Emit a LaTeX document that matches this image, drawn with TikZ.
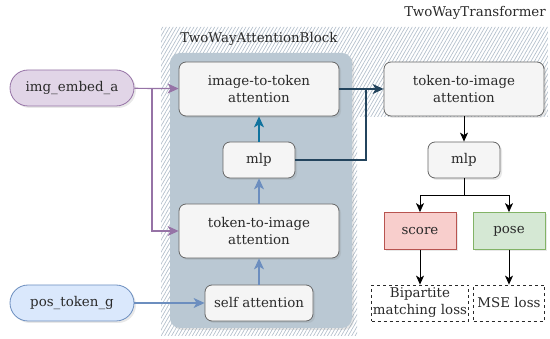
\documentclass[tikz,border=0pt]{standalone}
\usepackage{fontspec}
\setmainfont{DejaVu Serif}
\usepackage{tikz}
\usetikzlibrary{arrows.meta,shadows,patterns.meta}

\definecolor{purpleFill}{HTML}{E1D5E7}
\definecolor{purpleLine}{HTML}{9673A6}
\definecolor{blueFill}{HTML}{DAE8FC}
\definecolor{blueLine}{HTML}{6C8EBF}
\definecolor{redFill}{HTML}{F8CECC}
\definecolor{redLine}{HTML}{B85450}
\definecolor{greenFill}{HTML}{D5E8D4}
\definecolor{greenLine}{HTML}{82B366}
\definecolor{grayFill}{HTML}{F5F5F5}
\definecolor{grayLine}{HTML}{666666}
\definecolor{blockFill}{HTML}{BAC8D3}
\definecolor{tealLine}{HTML}{10739E}
\definecolor{navyLine}{HTML}{23445D}
\definecolor{hatchLine}{HTML}{B4C0CC}
\definecolor{textGray}{HTML}{2A2A2A}

\begin{document}
\begin{tikzpicture}[
		x=1pt, y=-1pt,
		every node/.style={font=\fontsize{13.4}{17}\selectfont, text=textGray, align=center, inner sep=0pt},
		softshadow/.style={drop shadow={opacity=0.18, shadow xshift=2pt, shadow yshift=-2pt}},
		inputnode/.style={draw, rounded corners=18pt, minimum width=124pt, minimum height=36pt, line width=0.8pt, softshadow},
		attnbox/.style={draw=grayLine, fill=grayFill, rounded corners=7pt, minimum height=36pt, line width=0.8pt, softshadow},
		headbox/.style={draw, minimum width=72pt, minimum height=37pt, line width=0.8pt, softshadow},
		lossbox/.style={draw=textGray, dashed, fill=white, minimum height=36pt, line width=0.8pt},
		tip/.style={-{Stealth[length=11pt, width=10pt, inset=3pt]}},
		smalltip/.style={-{Stealth[length=9pt, width=8pt, inset=2.5pt]}}
	]
  \useasboundingbox (0,0) rectangle (550,339);

  % hatched area of the transformer
  \fill[pattern={Lines[angle=60, distance=3pt, line width=0.7pt]}, pattern color=hatchLine]
    (161,27) -- (548,27) -- (548,117) -- (357,117) -- (357,336) -- (161,336) -- cycle;
  \node (transformer_label) [anchor=east] at (546,13) {TwoWayTransformer};

  % attention block
  \fill[blockFill, rounded corners=10pt, softshadow] (170,53) rectangle (352,328);
  \node (block_label) at (259,39) {TwoWayAttentionBlock};

  % inputs
  \node (img_embed) [inputnode, draw=purpleLine, fill=purpleFill] at (72,88) {img\_embed\_a};
  \node (pos_token) [inputnode, draw=blueLine, fill=blueFill] at (72,303) {pos\_token\_g};

  % inside the block
  \node (img_to_tok) [attnbox, minimum width=160pt, minimum height=54pt] at (259,89) {image-to-token\\attention};
  \node (mlp_a) [attnbox, minimum width=72pt] at (259,160) {mlp};
  \node (tok_to_img) [attnbox, minimum width=160pt, minimum height=54pt] at (259,231) {token-to-image\\attention};
  \node (self_attn) [attnbox, minimum width=108pt] at (259,303) {self attention};

  % final layers
  \node (tok_to_img_f) [attnbox, minimum width=160pt, minimum height=54pt] at (464,89) {token-to-image\\attention};
  \node (mlp_b) [attnbox, minimum width=72pt] at (464,160) {mlp};
  \node (score) [headbox, draw=redLine, fill=redFill] at (420,231) {score};
  \node (pose) [headbox, draw=greenLine, fill=greenFill] at (509,231) {pose};
  \node (bipartite) [lossbox, minimum width=97pt] at (420,303) {Bipartite\\matching loss};
  \node (mse) [lossbox, minimum width=71pt] at (509,303) {MSE loss};

  \coordinate (img_split) at (152,88);
  \coordinate (mlp_join) at (366,89);
  \coordinate (head_fork) at (464,195);

  % connectors
  \draw[purpleLine, line width=1.2pt, tip] (img_embed) -- (img_to_tok);
  \draw[purpleLine, line width=1.2pt, tip] (img_split) |- (tok_to_img);
  \draw[blueLine, line width=1.2pt, tip] (pos_token) -- (self_attn);
  \draw[blueLine, line width=1.2pt, tip] (self_attn) -- (tok_to_img);
  \draw[blueLine, line width=1.2pt, tip] (tok_to_img) -- (mlp_a);
  \draw[tealLine, line width=1.2pt, tip] (mlp_a) -- (img_to_tok);
  \draw[navyLine, line width=1.2pt, tip] (img_to_tok) -- (tok_to_img_f);
  \draw[navyLine, line width=1.2pt] (mlp_a) -| (mlp_join);
  \draw[black, line width=0.8pt, smalltip] (tok_to_img_f) -- (mlp_b);
  \draw[black, line width=0.8pt] (mlp_b) -- (head_fork);
  \draw[black, line width=0.8pt, smalltip] (head_fork) -| (score);
  \draw[black, line width=0.8pt, smalltip] (head_fork) -| (pose);
  \draw[black, line width=0.8pt, smalltip] (score) -- (bipartite);
  \draw[black, line width=0.8pt, smalltip] (pose) -- (mse);
\end{tikzpicture}
\end{document}
